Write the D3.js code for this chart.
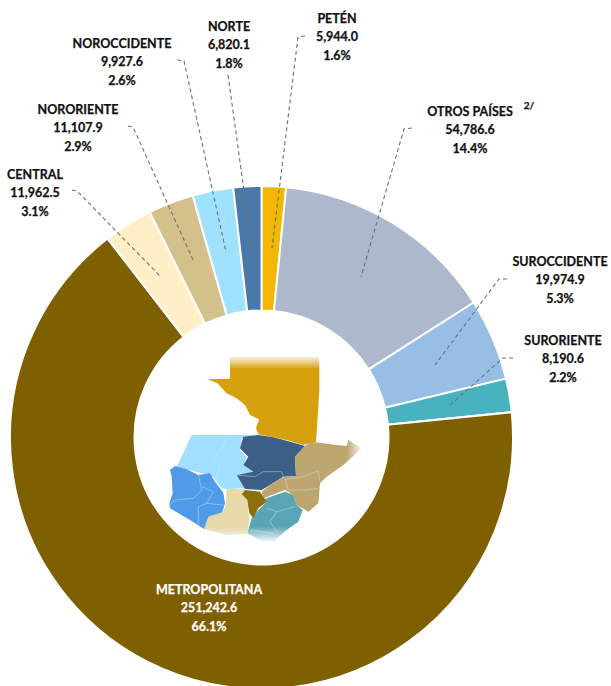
<!DOCTYPE html>
<html>
<head>
<meta charset="utf-8">
<script src="https://cdn.jsdelivr.net/npm/d3@7"></script>
<style>
  html, body { margin: 0; padding: 0; background: #fff; overflow: hidden; }
  text { font-family: Lato, "Open Sans", sans-serif; font-weight: 700; font-size: 12.5px; text-anchor: middle; dominant-baseline: central; stroke-width: 0.25px; }
</style>
</head>
<body>
<div class="map"></div>
<script>
// clockwise from 12 o'clock
var regions = ["PETÉN","OTROS PAÍSES","SUROCCIDENTE","SURORIENTE","METROPOLITANA","CENTRAL","NORORIENTE","NOROCCIDENTE","NORTE"];
var values = [5944.0,54786.6,19974.9,8190.6,251242.6,11962.5,11107.9,9927.6,6820.1];
var percents = ["1.6%","14.4%","5.3%","2.2%","66.1%","3.1%","2.9%","2.6%","1.8%"];
var colors = ["#f2b800","#adb8cc","#97bfe5","#49b2bf","#7f6000","#ffefc6","#d4c08a","#9fe2ff","#4a78a8"];

// label centre x and y of the first line
var labelX = [337,470,560,563,209,35,78,122,229];
var labelY = [18,111,261,340,589,174,109,43,26];

// leader lines, label end to slice end
var leaders = [
  [[305,36],[298,37],[272,248]],
  [[412,128],[404,129],[361,277]],
  [[507,279],[499,279],[435,365]],
  [[513,358],[503,358],[448,407]],
  null,
  [[72,190],[77,191],[161,277]],
  [[128,126],[133,127],[194,262]],
  [[177,60],[184,61],[226,252]],
  [[228,75],[252,249]]
];

// map inset, outlines in a 750x660 box
var mapShapes = [
  {fill:"#d6a010", pts:[[300,50],[568,50],[568,150],[565,200],[558,305],[520,315],[470,300],[430,292],[385,283],[378,265],[387,238],[360,225],[345,195],[320,175],[290,160],[262,130],[232,118],[300,116]]},
  {fill:"#9fdfff", pts:[[185,285],[380,285],[335,295],[330,330],[350,350],[340,375],[370,395],[320,405],[345,445],[290,447],[275,445],[250,410],[215,400],[170,388],[135,392]]},
  {fill:"#4f9be8", pts:[[120,390],[135,378],[170,388],[205,405],[240,400],[255,425],[280,458],[285,490],[270,540],[222,567],[180,540],[120,505],[118,490],[128,460],[125,410]]},
  {fill:"#3a5f87", pts:[[340,290],[385,285],[430,292],[470,302],[525,318],[495,350],[498,408],[460,410],[420,435],[395,450],[345,447],[320,405],[370,395],[340,375],[355,350],[330,325]]},
  {fill:"#bda56f", pts:[[525,318],[545,305],[620,315],[650,318],[655,300],[670,310],[695,325],[640,375],[590,410],[570,430],[565,490],[535,515],[500,495],[490,465],[465,450],[400,475],[395,455],[420,435],[460,412],[498,408],[495,350]]},
  {fill:"#e6d8a8", pts:[[290,447],[345,447],[335,460],[352,480],[358,540],[352,582],[290,585],[222,567],[235,530],[280,515],[288,490]]},
  {fill:"#5aa5b5", pts:[[395,480],[465,455],[490,465],[500,495],[518,510],[505,545],[470,570],[430,605],[400,605],[352,580],[365,535],[385,510],[410,485]]},
  {fill:"#8c7010", pts:[[345,450],[390,455],[410,485],[385,505],[370,535],[358,520],[352,480],[335,462]]}
];
var mapBorders = [
  [[295,285],[275,325],[250,355],[270,380],[255,425]],
  [[320,405],[375,410],[400,395],[455,395],[460,410]],
  [[465,418],[520,410],[565,392],[570,425]],
  [[465,418],[475,450],[530,450],[565,445]],
  [[205,405],[215,450],[190,475],[135,480],[120,495]],
  [[215,440],[250,455],[230,490],[205,500],[205,560]],
  [[230,490],[280,495]],
  [[300,515],[320,490],[352,490]],
  [[410,505],[440,515],[495,500]],
  [[440,515],[420,545],[440,575]],
  [[360,570],[430,580]]
];

var w = 611, h = 686;
var cx = 261.5, cy = 437.5;
var outerR = 251.5, innerR = 127;

var svg = d3.select("div.map")
  .append("svg")
  .attr("width", w)
  .attr("height", h)
  .style("display", "block");

var pie = d3.pie().sort(null).value(function(d){ return d; });
var arc = d3.arc().innerRadius(innerR).outerRadius(outerR);

svg.append("g")
  .attr("transform", "translate(" + cx + "," + cy + ")")
  .selectAll("path")
  .data(pie(values))
  .enter()
  .append("path")
    .attr("d", arc)
    .attr("fill", function(d,i){ return colors[i]; })
    .attr("stroke", "#fff")
    .attr("stroke-width", 2);

//map inset
var defs = svg.append("defs");
defs.append("filter").attr("id","soft").append("feGaussianBlur").attr("stdDeviation",0.35);
var fadeTop = defs.append("linearGradient").attr("id","fadeTop").attr("x1",0).attr("y1",0).attr("x2",0).attr("y2",1);
fadeTop.append("stop").attr("offset",0).attr("stop-color","#fff").attr("stop-opacity",1);
fadeTop.append("stop").attr("offset",1).attr("stop-color","#fff").attr("stop-opacity",0);
var fadeBottom = defs.append("linearGradient").attr("id","fadeBottom").attr("x1",0).attr("y1",0).attr("x2",0).attr("y2",1);
fadeBottom.append("stop").attr("offset",0).attr("stop-color","#fff").attr("stop-opacity",0);
fadeBottom.append("stop").attr("offset",1).attr("stop-color","#fff").attr("stop-opacity",1);
var fadeRight = defs.append("linearGradient").attr("id","fadeRight").attr("x1",0).attr("y1",0).attr("x2",1).attr("y2",0);
fadeRight.append("stop").attr("offset",0).attr("stop-color","#fff").attr("stop-opacity",0);
fadeRight.append("stop").attr("offset",1).attr("stop-color","#fff").attr("stop-opacity",1);

var mapScaleX = d3.scaleLinear().domain([0,750]).range([130,380]);
var mapScaleY = d3.scaleLinear().domain([0,660]).range([340,560]);
var mapLine = d3.line()
  .x(function(d){ return mapScaleX(d[0]); })
  .y(function(d){ return mapScaleY(d[1]); });

var mapG = svg.append("g").attr("filter", "url(#soft)");
mapG.selectAll(".shape")
  .data(mapShapes)
  .enter()
  .append("path")
    .attr("d", function(d){ return mapLine(d.pts) + "Z"; })
    .attr("fill", function(d){ return d.fill; });
mapG.selectAll(".border")
  .data(mapBorders)
  .enter()
  .append("path")
    .attr("d", mapLine)
    .attr("fill", "none")
    .attr("stroke", "#dcebf3")
    .attr("stroke-opacity", 0.6)
    .attr("stroke-width", 0.7);

// soft edges of the inset
mapG.append("rect").attr("x",mapScaleX(290)).attr("y",mapScaleY(45)).attr("width",95).attr("height",14).attr("fill","url(#fadeTop)");
mapG.append("rect").attr("x",mapScaleX(215)).attr("y",mapScaleY(560)).attr("width",85).attr("height",16).attr("fill","url(#fadeBottom)");
mapG.append("rect").attr("x",mapScaleX(650)).attr("y",mapScaleY(295)).attr("width",17).attr("height",36).attr("fill","url(#fadeRight)");

//leader lines
svg.append("g").selectAll("path")
  .data(leaders.filter(function(d){ return d; }))
  .enter()
  .append("path")
    .attr("d", d3.line())
    .attr("fill", "none")
    .attr("stroke", "#707070")
    .attr("stroke-width", 1.1)
    .attr("stroke-dasharray", "4 3");

//labels
var fmt = d3.format(",.1f");
var labels = svg.append("g").selectAll("text")
  .data(regions)
  .enter()
  .append("text")
    .attr("x", function(d,i){ return labelX[i]; })
    .attr("fill", function(d){ return d === "METROPOLITANA" ? "#fff" : "#111"; })
    .attr("stroke", function(d){ return d === "METROPOLITANA" ? "#fff" : "#111"; });

labels.each(function(d,i){
  var t = d3.select(this);
  [d, fmt(values[i]), percents[i]].forEach(function(s,j){
    t.append("tspan")
      .attr("x", labelX[i])
      .attr("y", labelY[i] + j*18.3)
      .text(s);
  });
});

svg.append("text")
  .attr("x", 529)
  .attr("y", 105)
  .style("font-size", "10px")
  .attr("fill", "#111")
  .attr("stroke", "#111")
  .text("2/");
</script>
</body>
</html>
